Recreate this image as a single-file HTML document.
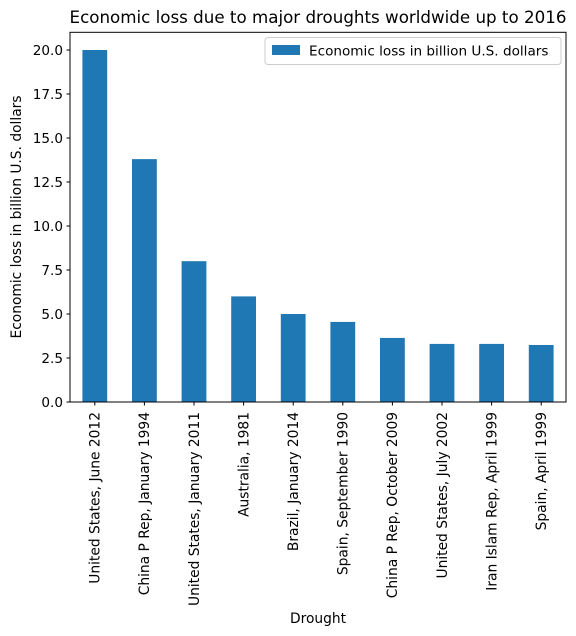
<!DOCTYPE html>
<html><head><meta charset="utf-8"><style>
html,body{margin:0;padding:0;background:#fff;}
svg{display:block;font-family:"DejaVu Sans","Liberation Sans",sans-serif;}
</style></head><body>
<svg id="chart" width="576" height="636" viewBox="0 0 576 636">
<text x="318" y="23" font-size="16.7" text-anchor="middle" fill="#000">Economic loss due to major droughts worldwide up to 2016</text>
<g id="bars"></g>
<g id="yaxis"></g>
<g id="xaxis"></g>
<rect x="70" y="32.3" width="496" height="369.7" fill="none" stroke="#000" stroke-width="1"/>
<text transform="translate(21,217) rotate(-90)" font-size="13.8" text-anchor="middle">Economic loss in billion U.S. dollars</text>
<text x="318" y="623" font-size="13.8" text-anchor="middle">Drought</text>
<g>
<rect x="265" y="37.5" width="296" height="27" rx="3" fill="#fff" stroke="#ccc"/>
<rect x="272" y="45" width="28" height="10" fill="#1f77b4"/>
<text x="309" y="55.5" font-size="13.6">Economic loss in billion U.S. dollars</text>
</g>
</svg>
<script>
const categories=["United States, June 2012","China P Rep, January 1994","United States, January 2011","Australia, 1981","Brazil, January 2014","Spain, September 1990","China P Rep, October 2009","United States, July 2002","Iran Islam Rep, April 1999","Spain, April 1999"];
const values=[20.0,13.8,8.0,6.0,5.0,4.55,3.64,3.3,3.3,3.24];
const yTicks=[0,2.5,5,7.5,10,12.5,15,17.5,20];
const yTickLabels=["0.0","2.5","5.0","7.5","10.0","12.5","15.0","17.5","20.0"];
const NS="http://www.w3.org/2000/svg";
const L=70,R=566,Y0=402;
const unit=(Y0-50)/20;
function y(v){return Y0-v*unit;}
function xc(i){const w=(R-L)/categories.length;return L+w*(i+0.5);}
function mk(t,a){const e=document.createElementNS(NS,t);for(const k in a)e.setAttribute(k,a[k]);return e;}
const bars=document.getElementById('bars'),ya=document.getElementById('yaxis'),xa=document.getElementById('xaxis');
const bw=(R-L)/categories.length*0.5;
values.forEach((v,i)=>{
 const r=mk('rect',{x:xc(i)-bw/2,y:y(v),width:bw,height:Y0-y(v),fill:'#1f77b4'});
 
 
 bars.appendChild(r);
});
yTicks.forEach((t,i)=>{
 const l=mk('line',{x1:L-3.5,x2:L,y1:y(t),y2:y(t),stroke:'#000'});
 
 
 ya.appendChild(l);
 const tx=mk('text',{x:L-7,y:y(t)+4.8,'font-size':13.6,'text-anchor':'end'});
 tx.textContent=yTickLabels[i];
 
 
 ya.appendChild(tx);
});
categories.forEach((c,i)=>{
 const l=mk('line',{x1:xc(i),x2:xc(i),y1:Y0,y2:Y0+3.5,stroke:'#000'});
 
 
 xa.appendChild(l);
 const tx=mk('text',{transform:`translate(${xc(i)+4.8},${Y0+10}) rotate(-90)`,'font-size':13.8,'text-anchor':'end'});
 tx.textContent=c;
 
 
 xa.appendChild(tx);
});
</script>
</body></html>
